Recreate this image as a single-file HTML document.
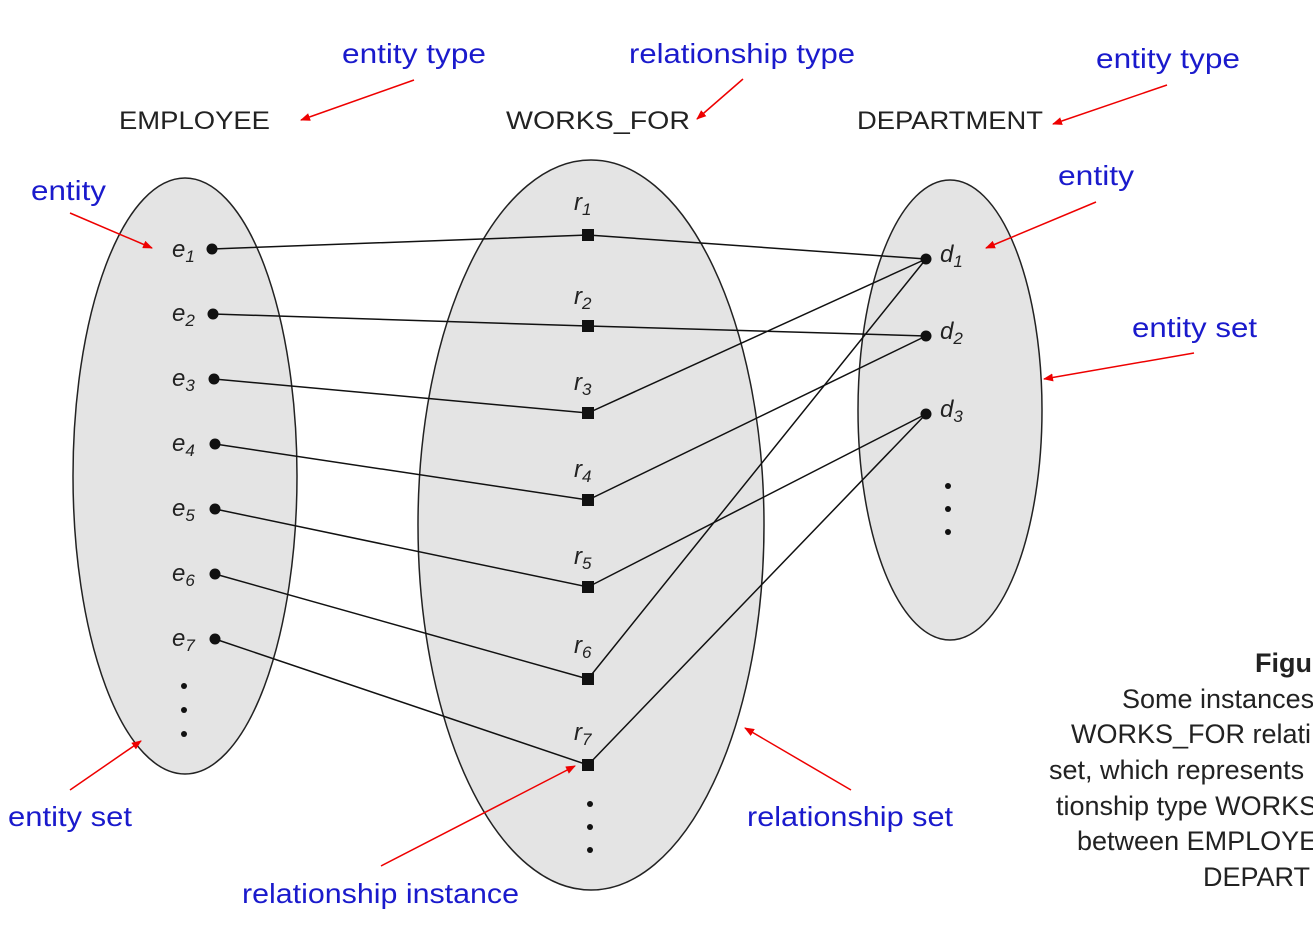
<!DOCTYPE html>
<html><head><meta charset="utf-8"><style>html,body{margin:0;padding:0;background:#fff;overflow:hidden}</style></head>
<body>
<svg width="1313" height="928" xmlns="http://www.w3.org/2000/svg" font-family="Liberation Sans, sans-serif">
<defs><marker id="a" markerWidth="10" markerHeight="8" refX="9" refY="4" orient="auto" markerUnits="userSpaceOnUse"><path d="M0,0 L10,4 L0,8 z" fill="#e00"/></marker></defs>
<ellipse cx="185" cy="476" rx="112" ry="298" fill="#e4e4e4" stroke="#222" stroke-width="1.5"/>
<ellipse cx="591" cy="525" rx="173" ry="365" fill="#e4e4e4" stroke="#222" stroke-width="1.5"/>
<ellipse cx="950" cy="410" rx="92" ry="230" fill="#e4e4e4" stroke="#222" stroke-width="1.5"/>
<g font-size="25" fill="#222" lengthAdjust="spacingAndGlyphs">
<text x="119" y="129" textLength="151" lengthAdjust="spacingAndGlyphs">EMPLOYEE</text>
<text x="506" y="129" textLength="184" lengthAdjust="spacingAndGlyphs">WORKS_FOR</text>
<text x="857" y="129" textLength="186" lengthAdjust="spacingAndGlyphs">DEPARTMENT</text>
</g>
<g stroke="#111" stroke-width="1.5" fill="none">
<polyline points="212,249 588,235 926,259"/>
<polyline points="213,314 588,326 926,336"/>
<polyline points="214,379 588,413 926,259"/>
<polyline points="215,444 588,500 926,336"/>
<polyline points="215,509 588,587 926,414"/>
<polyline points="215,574 588,679 926,259"/>
<polyline points="215,639 588,765 926,414"/>
</g>
<g fill="#111">
<circle cx="212" cy="249" r="5.5"/><circle cx="213" cy="314" r="5.5"/><circle cx="214" cy="379" r="5.5"/><circle cx="215" cy="444" r="5.5"/><circle cx="215" cy="509" r="5.5"/><circle cx="215" cy="574" r="5.5"/><circle cx="215" cy="639" r="5.5"/>
<circle cx="926" cy="259" r="5.5"/><circle cx="926" cy="336" r="5.5"/><circle cx="926" cy="414" r="5.5"/>
<rect x="582" y="229" width="12" height="12"/><rect x="582" y="320" width="12" height="12"/><rect x="582" y="407" width="12" height="12"/><rect x="582" y="494" width="12" height="12"/><rect x="582" y="581" width="12" height="12"/><rect x="582" y="673" width="12" height="12"/><rect x="582" y="759" width="12" height="12"/>
<circle cx="184" cy="686" r="3"/><circle cx="184" cy="710" r="3"/><circle cx="184" cy="734" r="3"/>
<circle cx="590" cy="804" r="3"/><circle cx="590" cy="827" r="3"/><circle cx="590" cy="850" r="3"/>
<circle cx="948" cy="486" r="3"/><circle cx="948" cy="509" r="3"/><circle cx="948" cy="532" r="3"/>
</g>
<g font-size="24" font-style="italic" fill="#222">
<text x="172" y="257">e<tspan font-size="17" dy="5">1</tspan></text>
<text x="172" y="321">e<tspan font-size="17" dy="5">2</tspan></text>
<text x="172" y="386">e<tspan font-size="17" dy="5">3</tspan></text>
<text x="172" y="451">e<tspan font-size="17" dy="5">4</tspan></text>
<text x="172" y="516">e<tspan font-size="17" dy="5">5</tspan></text>
<text x="172" y="581">e<tspan font-size="17" dy="5">6</tspan></text>
<text x="172" y="646">e<tspan font-size="17" dy="5">7</tspan></text>
<text x="574" y="210">r<tspan font-size="17" dy="5">1</tspan></text>
<text x="574" y="304">r<tspan font-size="17" dy="5">2</tspan></text>
<text x="574" y="390">r<tspan font-size="17" dy="5">3</tspan></text>
<text x="574" y="477">r<tspan font-size="17" dy="5">4</tspan></text>
<text x="574" y="564">r<tspan font-size="17" dy="5">5</tspan></text>
<text x="574" y="653">r<tspan font-size="17" dy="5">6</tspan></text>
<text x="574" y="740">r<tspan font-size="17" dy="5">7</tspan></text>
<text x="940" y="262">d<tspan font-size="17" dy="5">1</tspan></text>
<text x="940" y="339">d<tspan font-size="17" dy="5">2</tspan></text>
<text x="940" y="417">d<tspan font-size="17" dy="5">3</tspan></text>
</g>
<g font-size="28" fill="#1a1acc">
<text x="342" y="63" textLength="144" lengthAdjust="spacingAndGlyphs">entity type</text>
<text x="629" y="63" textLength="226" lengthAdjust="spacingAndGlyphs">relationship type</text>
<text x="1096" y="68" textLength="144" lengthAdjust="spacingAndGlyphs">entity type</text>
<text x="31" y="200" textLength="75" lengthAdjust="spacingAndGlyphs">entity</text>
<text x="1058" y="185" textLength="76" lengthAdjust="spacingAndGlyphs">entity</text>
<text x="1132" y="337" textLength="125" lengthAdjust="spacingAndGlyphs">entity set</text>
<text x="8" y="826" textLength="124" lengthAdjust="spacingAndGlyphs">entity set</text>
<text x="747" y="826" textLength="206" lengthAdjust="spacingAndGlyphs">relationship set</text>
<text x="242" y="903" textLength="277" lengthAdjust="spacingAndGlyphs">relationship instance</text>
</g>
<g stroke="#e00" stroke-width="1.5" marker-end="url(#a)">
<line x1="414" y1="80" x2="301" y2="120"/>
<line x1="743" y1="79" x2="697" y2="119"/>
<line x1="1167" y1="85" x2="1053" y2="124"/>
<line x1="70" y1="213" x2="152" y2="248"/>
<line x1="1096" y1="202" x2="986" y2="248"/>
<line x1="1194" y1="353" x2="1044" y2="379"/>
<line x1="70" y1="790" x2="141" y2="741"/>
<line x1="851" y1="790" x2="745" y2="728"/>
<line x1="381" y1="866" x2="575" y2="766"/>
</g>
<g font-size="27" fill="#222">
<text x="1255" y="672" font-weight="bold">Figu</text>
<text x="1122" y="708">Some instances</text>
<text x="1071" y="743">WORKS_FOR relati</text>
<text x="1049" y="779">set, which represents</text>
<text x="1056" y="815">tionship type WORKS</text>
<text x="1077" y="850">between EMPLOYE</text>
<text x="1203" y="886">DEPART</text>
</g>
</svg>
</body></html>
